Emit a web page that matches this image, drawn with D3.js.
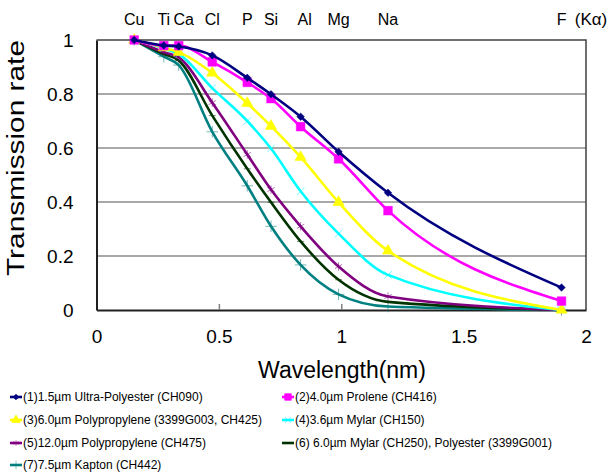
<!DOCTYPE html>
<html>
<head>
<meta charset="utf-8">
<script src="https://cdn.jsdelivr.net/npm/d3@7"></script>
<style>
  html, body { margin: 0; padding: 0; background: #fff; }
  svg { display: block; font-family: "Liberation Sans", Arial, sans-serif; }
</style>
</head>
<body>
<svg id="chart" width="611" height="472"></svg>
<script>
// Kα lines used as the sample points
const elements = ["Cu", "Ti", "Ca", "Cl", "P", "Si", "Al", "Mg", "Na", "F"];
const wavelengths = [0.154, 0.275, 0.336, 0.473, 0.616, 0.713, 0.834, 0.989, 1.191, 1.9];

const xTicks = [0, 0.5, 1, 1.5, 2];
const xTickLabels = ["0", "0.5", "1", "1.5", "2"];
const yTicks = [0, 0.2, 0.4, 0.6, 0.8, 1];
const yTickLabels = ["0", "0.2", "0.4", "0.6", "0.8", "1"];

const seriesNames = [
    "(1)1.5µm Ultra-Polyester (CH090)",
    "(2)4.0µm Prolene (CH416)",
    "(3)6.0µm Polypropylene (3399G003, CH425)",
    "(4)3.6µm Mylar (CH150)",
    "(5)12.0µm Polypropylene (CH475)",
    "(6) 6.0µm Mylar (CH250), Polyester (3399G001)",
    "(7)7.5µm Kapton (CH442)"
];
const seriesColors = ["#000080", "#ff00ff", "#ffff00", "#00ffff", "#800080", "#003300", "#008080"];

// transmission values, one per element above
const s1 = [1.0, 0.980, 0.976, 0.943, 0.860, 0.799, 0.716, 0.586, 0.434, 0.083];
const s2 = [1.0, 0.979, 0.979, 0.919, 0.843, 0.783, 0.679, 0.560, 0.368, 0.033];
const s3 = [1.0, 0.972, 0.955, 0.878, 0.766, 0.681, 0.566, 0.399, 0.219, 0.0];
const s4 = [1.0, 0.969, 0.948, 0.822, 0.700, 0.598, 0.440, 0.283, 0.130, 0.0];
const s5 = [1.0, 0.955, 0.936, 0.768, 0.576, 0.446, 0.310, 0.161, 0.050, 0.0];
const s6 = [1.0, 0.948, 0.924, 0.720, 0.523, 0.399, 0.254, 0.112, 0.030, 0.0];
const s7 = [1.0, 0.938, 0.907, 0.660, 0.460, 0.310, 0.167, 0.058, 0.013, 0.0];
const allSeries = [s1, s2, s3, s4, s5, s6, s7];

const svg = d3.select("#chart");
const plot = {left: 96.5, right: 586, top: 40, bottom: 310};

const x = d3.scaleLinear().domain([0, 2]).range([plot.left, plot.right]);
const y = d3.scaleLinear().domain([0, 1]).range([plot.bottom, plot.top]);

// gridlines
svg.append("g")
    .selectAll("line")
    .data(yTicks.filter(d => d > 0 && d < 1))
    .enter()
    .append("line")
    .attr("x1", plot.left).attr("x2", plot.right)
    .attr("y1", d => y(d)).attr("y2", d => y(d))
    .attr("stroke", "#8c8c8c")
    .attr("stroke-width", 1.5);

// plot border (top / right)
svg.append("path")
    .attr("d", `M${plot.left},${plot.top}H${plot.right}V${plot.bottom}`)
    .attr("fill", "none")
    .attr("stroke", "#404040")
    .attr("stroke-width", 1.5);

// bottom axis, ticks inward
const xAxis = svg.append("g")
    .attr("transform", "translate(0," + plot.bottom + ")")
    .call(d3.axisBottom(x).tickValues(xTicks).tickSize(-6).tickSizeOuter(0)
          .tickFormat((d, i) => xTickLabels[i]).tickPadding(20));
xAxis.select(".domain").attr("stroke", "#202020").attr("stroke-width", 2.2);
xAxis.selectAll(".tick line").attr("stroke", "#808080").attr("stroke-width", 1.5)
    .filter(d => d === 0 || d === 2).remove();
xAxis.selectAll("text").attr("font-size", 19).attr("fill", "#000")
    .attr("font-family", "Liberation Sans, Arial, sans-serif");

// left axis
const yAxis = svg.append("g")
    .attr("transform", "translate(" + plot.left + ",0)")
    .call(d3.axisLeft(y).tickValues(yTicks).tickSize(0).tickSizeOuter(0)
          .tickFormat((d, i) => yTickLabels[i]).tickPadding(23));
yAxis.select(".domain").attr("stroke", "#202020").attr("stroke-width", 2);
yAxis.selectAll("text").attr("font-size", 19).attr("fill", "#000")
    .attr("font-family", "Liberation Sans, Arial, sans-serif");

// axis titles
svg.append("text")
    .attr("x", 342).attr("y", 378)
    .attr("text-anchor", "middle")
    .attr("font-size", 23)
    .text("Wavelength(nm)");

svg.append("text")
    .attr("transform", "translate(24,158) rotate(-90)")
    .attr("text-anchor", "middle")
    .attr("font-size", 23)
    .attr("textLength", 236)
    .attr("lengthAdjust", "spacingAndGlyphs")
    .text("Transmission rate");

// element labels along the top
svg.append("g")
    .selectAll("text")
    .data(elements)
    .enter()
    .append("text")
    .attr("x", (d, i) => x(wavelengths[i]) + (d === "Ca" ? 5 : d === "Al" ? 4 : 0))
    .attr("y", 25)
    .attr("text-anchor", "middle")
    .attr("font-size", 16)
    .text(d => d);
svg.append("text")
    .attr("x", 591).attr("y", 25)
    .attr("text-anchor", "middle")
    .attr("font-size", 17)
    .text("(Kα)");

// markers
const strokeSym = (t, size) => d3.symbol().type(t).size(size)();
const markers = [
    {path: d3.symbol().type(d3.symbolSquare).size(28)(), rot: 45, fill: true},
    {path: d3.symbol().type(d3.symbolSquare).size(75)(), rot: 0, fill: true},
    {path: d3.symbol().type(d3.symbolTriangle).size(55)(), rot: 0, fill: true},
    {path: strokeSym(d3.symbolTimes || d3.symbolX, 40), rot: 0, fill: false},
    {path: strokeSym(d3.symbolAsterisk, 50), rot: 0, fill: false},
    {path: "M-3.5,0H3.5", rot: 0, fill: false},
    {path: strokeSym(d3.symbolPlus, 45), rot: 0, fill: false}
];

const line = d3.line()
    .x((d, i) => x(wavelengths[i]))
    .y(d => y(d))
    .curve(d3.curveMonotoneX);

svg.append("clipPath").attr("id", "plotclip")
    .append("rect")
    .attr("x", plot.left).attr("y", plot.top - 8)
    .attr("width", plot.right - plot.left).attr("height", plot.bottom - plot.top + 16);

// draw back-to-front so series 1 sits on top
const order = [6, 5, 4, 3, 2, 1, 0];
const lines = svg.append("g").attr("clip-path", "url(#plotclip)");
order.forEach(k => {
    const g = lines.append("g");
    g.append("path")
        .datum(allSeries[k])
        .attr("d", line)
        .attr("fill", "none")
        .attr("stroke", seriesColors[k])
        .attr("stroke-width", 2.6);
    g.selectAll("path.m")
        .data(allSeries[k])
        .enter()
        .append("path")
        .attr("class", "m")
        .attr("d", markers[k].path)
        .attr("transform", (d, i) => `translate(${x(wavelengths[i])},${y(d)}) rotate(${markers[k].rot})`)
        .attr("fill", markers[k].fill ? seriesColors[k] : "none")
        .attr("stroke", seriesColors[k])
        .attr("stroke-opacity", markers[k].fill ? 1 : 0.55)
        .attr("stroke-width", markers[k].fill ? 0.5 : 1);
});

// legend
const legendPos = [
    [10, 397], [282, 397],
    [10, 420], [282, 420],
    [10, 443], [282, 443],
    [10, 465]
];
const legend = svg.append("g");
seriesNames.forEach((name, k) => {
    const [lx, ly] = legendPos[k];
    const g = legend.append("g").attr("transform", `translate(${lx},${ly})`);
    g.append("line")
        .attr("x1", 0).attr("x2", 12)
        .attr("stroke", seriesColors[k])
        .attr("stroke-width", 2.6);
    g.append("path")
        .attr("d", markers[k].path)
        .attr("transform", `translate(6,0) rotate(${markers[k].rot}) scale(0.75)`)
        .attr("fill", markers[k].fill ? seriesColors[k] : "none")
        .attr("stroke", seriesColors[k])
        .attr("stroke-opacity", markers[k].fill ? 1 : 0.6)
        .attr("stroke-width", 1);
    g.append("text")
        .attr("x", 13).attr("y", 4)
        .attr("font-size", 12)
        .text(name);
});
</script>
</body>
</html>
